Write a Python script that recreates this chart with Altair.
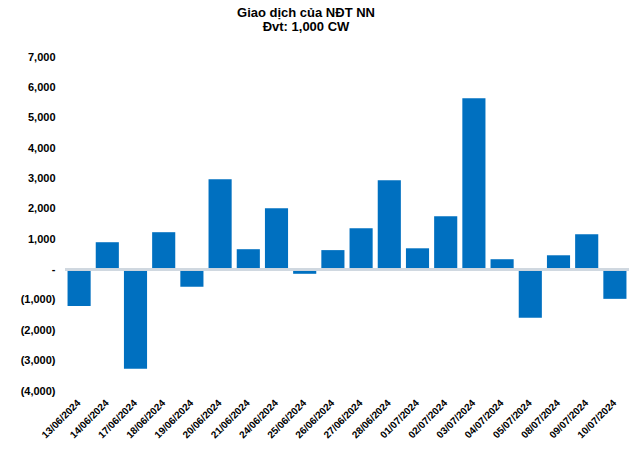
import altair as alt
import pandas as pd

dates = ["13/06/2024", "14/06/2024", "17/06/2024", "18/06/2024", "19/06/2024",
         "20/06/2024", "21/06/2024", "24/06/2024", "25/06/2024", "26/06/2024",
         "27/06/2024", "28/06/2024", "01/07/2024", "02/07/2024", "03/07/2024",
         "04/07/2024", "05/07/2024", "08/07/2024", "09/07/2024", "10/07/2024"]
values = [-1200, 900, -3270, 1230, -570,
          2975, 670, 2020, -140, 640,
          1360, 2940, 700, 1755, 5640,
          340, -1590, 470, 1165, -965]
y_ticks = [-4000, -3000, -2000, -1000, 0, 1000, 2000, 3000, 4000, 5000, 6000, 7000]

df = pd.DataFrame({"date": dates, "value": values})
FONT = "Liberation Sans"

label_expr = ("datum.value == 0 ? '-\u00a0\u00a0\u00a0\u00a0' : "
              "(datum.value < 0 ? '(' + format(-datum.value, ',') + ')' : "
              "format(datum.value, ',') + '\u00a0')")

y_axis = alt.Axis(values=y_ticks, labelExpr=label_expr, grid=False,
                  ticks=False, domain=False, labelFont=FONT,
                  labelFontSize=11, labelFontWeight="bold",
                  labelColor="#000000", labelPadding=10,
                  labelOverlap=False, labelBound=False, labelFlush=False)
y_scale = alt.Scale(domain=[-4000, 7000], nice=False, zero=False)

bars = alt.Chart(df).mark_bar(color="#0070C0").encode(
    x=alt.X("date:N", sort=dates, title=None,
            scale=alt.Scale(paddingInner=0.18, paddingOuter=0.09),
            axis=alt.Axis(labelAngle=-45, labelAlign="right", labelBaseline="middle",
                          labelFont=FONT, labelFontSize=10, labelFontWeight="bold",
                          labelColor="#000000", ticks=False, domain=False,
                          labelPadding=10, labelOverlap=False, labelBound=False)),
    y=alt.Y("value:Q", title=None, scale=y_scale, axis=y_axis),
)

zero = alt.Chart(df).mark_rule(color="#D0D8E0", strokeWidth=1.5).encode(
    y=alt.datum(0, type="quantitative", scale=y_scale, axis=y_axis, title=None)
)

chart = alt.layer(bars, zero).properties(
    width=564,
    height=334,
    autosize=alt.AutoSizeParams(type="none"),
    padding={"left": 65, "top": 57, "right": 11, "bottom": 63},
    title=alt.TitleParams(text=["Giao dịch của NĐT NN", "Đvt: 1,000 CW"],
                          font=FONT, fontSize=13, fontWeight="bold",
                          color="#000000", anchor="middle", frame="group",
                          dx=-41, offset=17, lineHeight=14),
).configure_view(stroke=None).configure_axis(labelOverlap=False)

chart.save("out.html", embed_options={"renderer": "svg", "actions": False})
